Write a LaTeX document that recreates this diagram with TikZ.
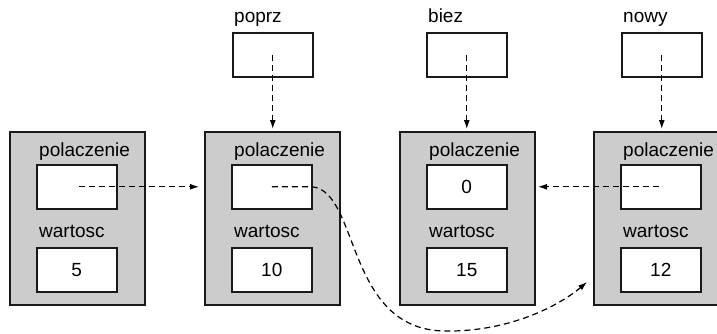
\documentclass[tikz,border=0pt]{standalone}
\usepackage{fontspec}
\setmainfont{Liberation Sans}
\usetikzlibrary{arrows.meta}
\begin{document}
\begin{tikzpicture}[x=1pt,y=1pt,
  nodebox/.style={draw=black!90,line width=2pt,fill=black!20,minimum width=135pt,minimum height=173pt,inner sep=0pt,anchor=north west},
  cellbox/.style={draw=black!90,line width=1.5pt,fill=white,minimum width=80pt,minimum height=44pt,inner sep=0pt,anchor=north west,font=\fontsize{19}{22}\selectfont},
  lbl/.style={anchor=base west,inner sep=0pt,font=\fontsize{19}{22}\selectfont},
  ptr/.style={dashed,dash pattern=on 6pt off 4pt,line width=1.2pt,-{Latex[length=9pt,width=6pt]}}]
\useasboundingbox (0,0) rectangle (717,-333);
\clip (0,0) rectangle (717,-333);
% big nodes
\foreach \i/\x/\v/\p in {1/9/5/,2/204/10/,3/399/15/0,4/593/12/}{
  \node[nodebox] (n\i) at (\x,-131) {};
  \node[lbl] (lp\i) at (\x+30,-156) {polaczenie};
  \node[lbl] (lw\i) at (\x+30,-237) {wartosc};
  \node[cellbox] (p\i) at (\x+27,-164) {\p};
  \node[cellbox] (v\i) at (\x+27,-247) {\v};
}
% top pointer variables
\node[cellbox] (t1) at (232,-32) {};
\node[cellbox] (t2) at (426,-32) {};
\node[cellbox] (t3) at (621,-32) {};
\node[lbl] (l1) at (234,-22) {poprz};
\node[lbl] (l2) at (428,-22) {biez};
\node[lbl] (l3) at (623,-22) {nowy};
% vertical arrows
\draw[ptr,shorten >=2pt] (t1.center) -- (t1.center |- n2.north);
\draw[ptr,shorten >=2pt] (t2.center) -- (t2.center |- n3.north);
\draw[ptr,shorten >=2pt] (t3.center) -- (t3.center |- n4.north);
% horizontal arrows
\draw[ptr,shorten >=5pt] ([xshift=2pt]p1.center) -- (p1.center -| n2.west);
\draw[ptr,shorten >=2pt] ([xshift=-2pt]p4.center) -- (p4.center -| n3.east);
% curved arrow
\coordinate (cend) at ([shift={(-6pt,24pt)}]n4.south west);
\draw[ptr] (p2.center) -- ++(40,0) .. controls ++(48,-4) and (345,-330) .. (445,-331) .. controls (510,-332) and (560,-305) .. (cend);
\end{tikzpicture}
\end{document}
